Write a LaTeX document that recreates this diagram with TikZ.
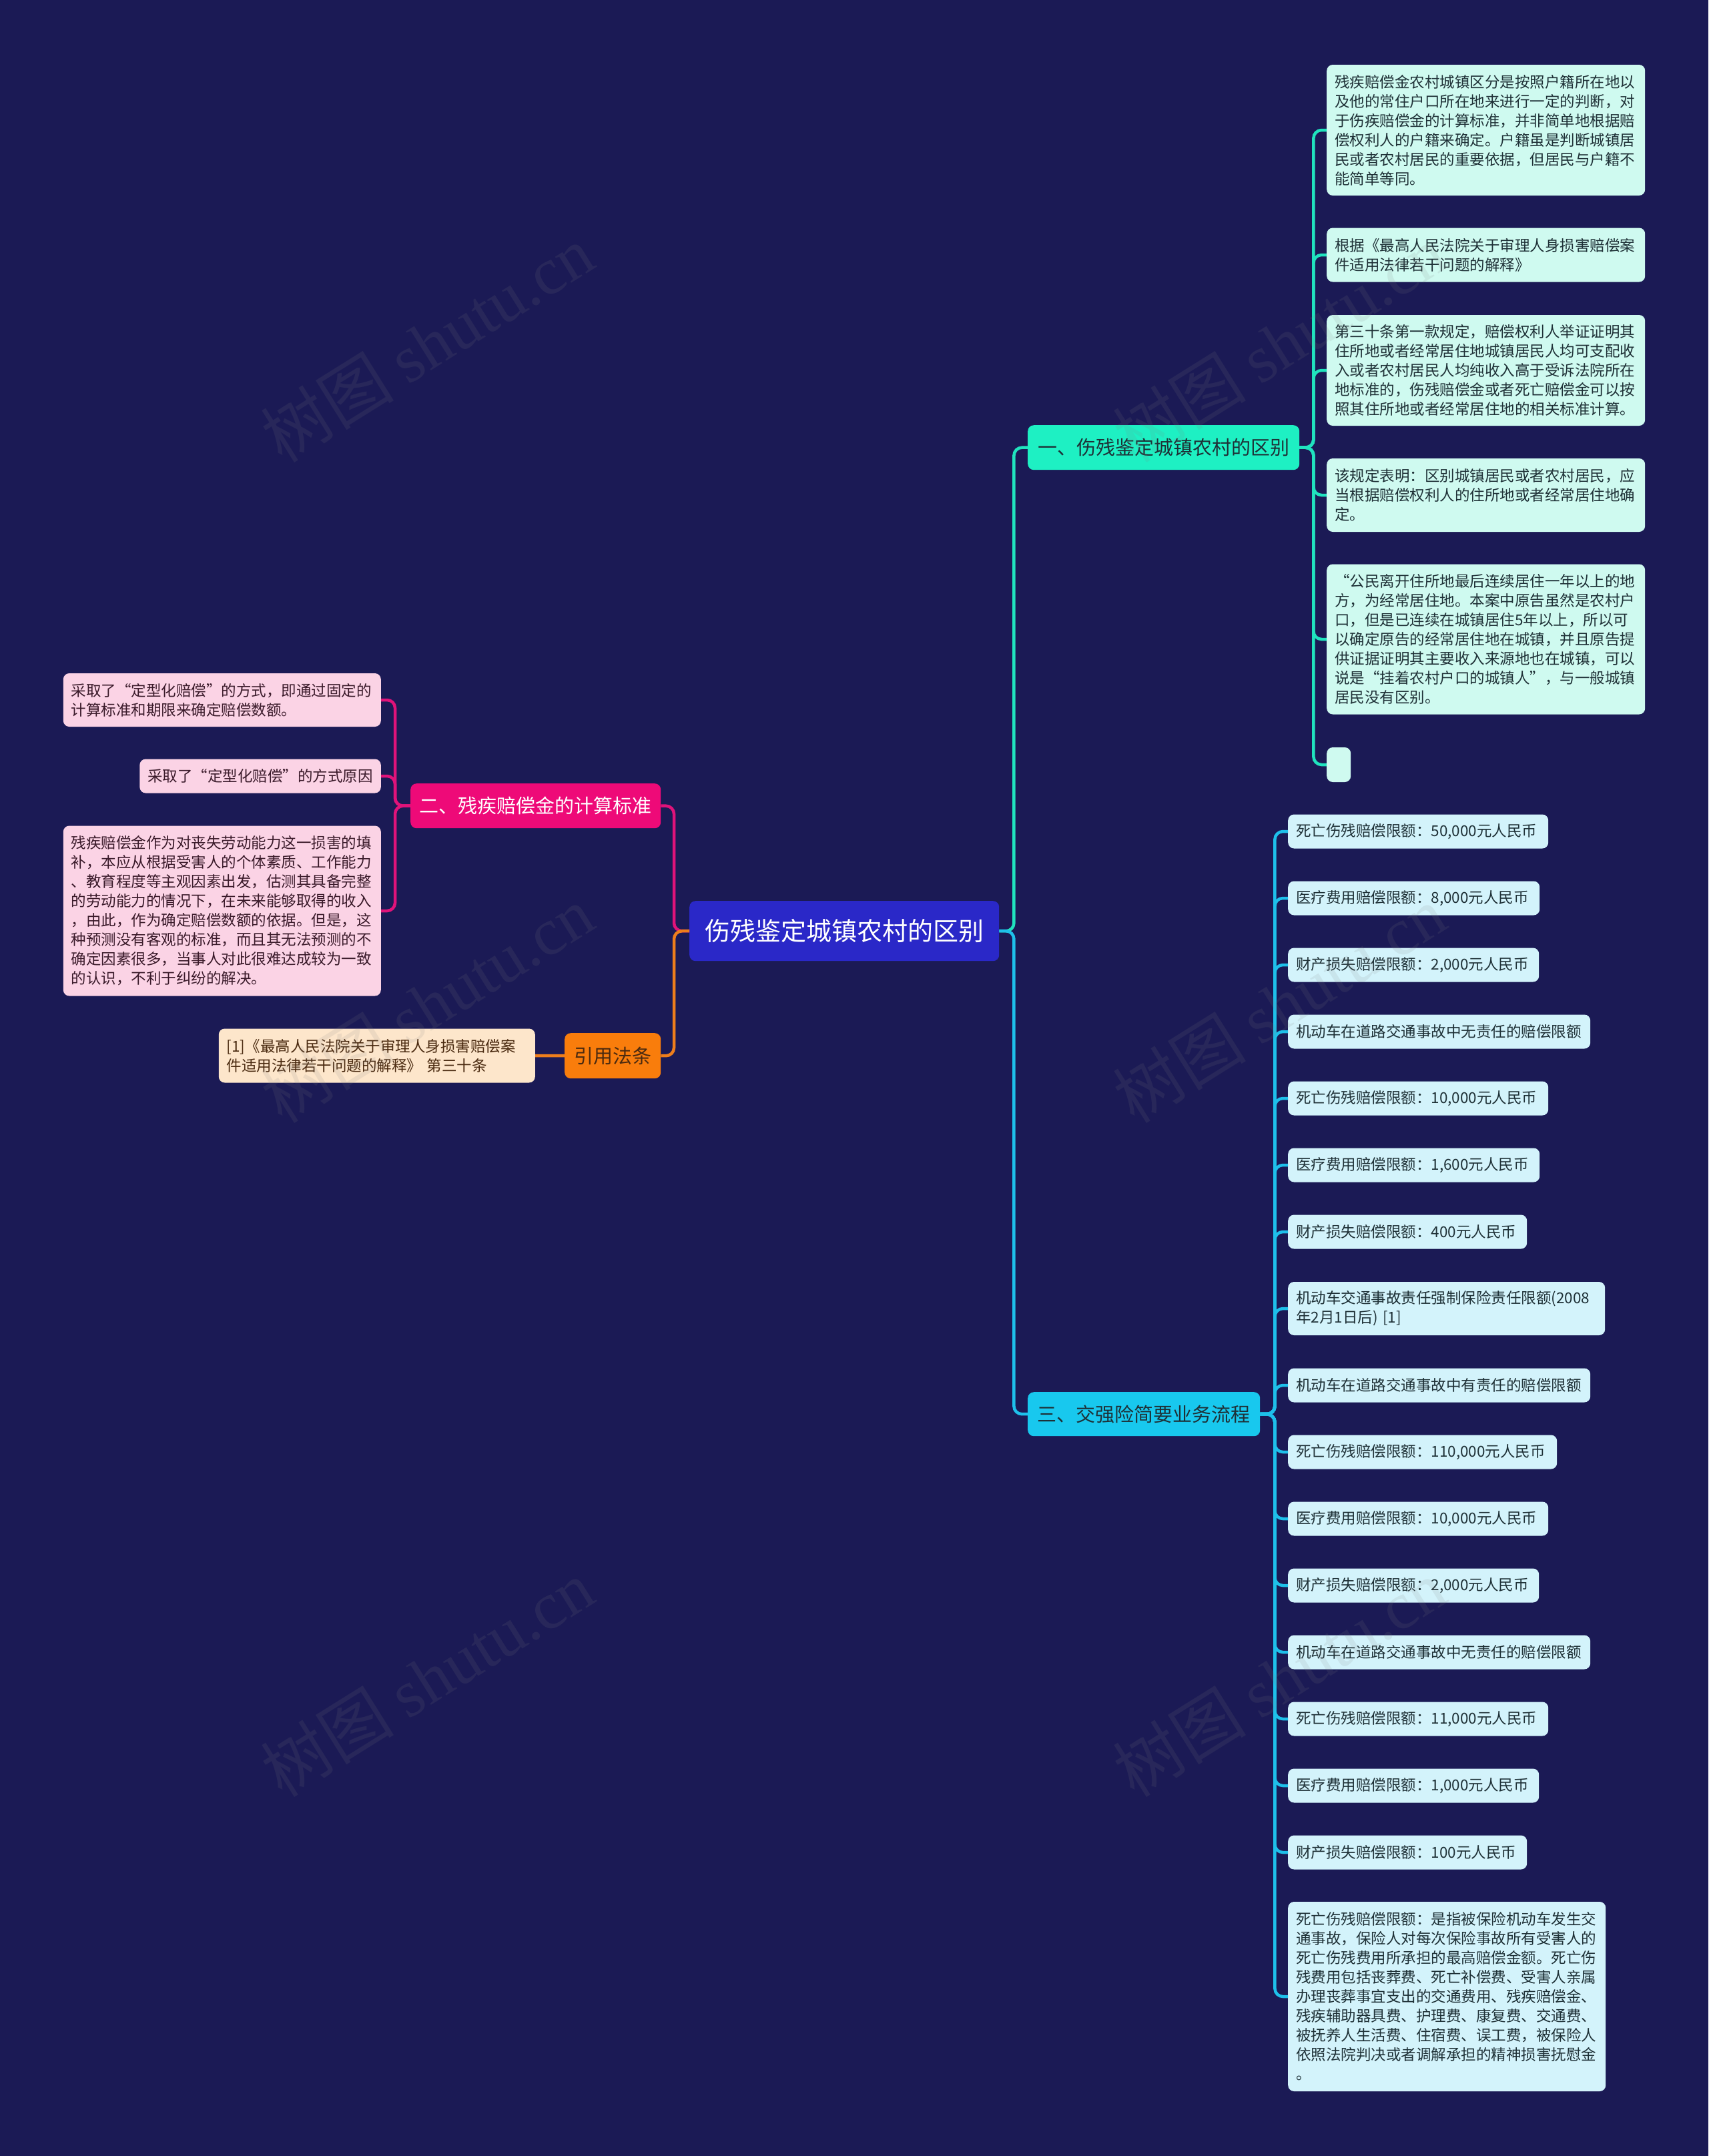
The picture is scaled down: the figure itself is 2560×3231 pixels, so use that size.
\documentclass[tikz,border=0pt]{standalone}
\usepackage{fontspec}
\setmainfont{Noto Sans CJK SC}
\newfontfamily\wmserif{Liberation Serif}
\definecolor{bg}{HTML}{1B1A55}
\definecolor{rootfill}{HTML}{2A28C8}
\definecolor{bonefill}{HTML}{1EF0C3}
\definecolor{boneline}{HTML}{20E3BE}
\definecolor{boneleaf}{HTML}{CFFAF0}
\definecolor{bthreefill}{HTML}{18C8EE}
\definecolor{bthreeline}{HTML}{1EC0EA}
\definecolor{bthreeleaf}{HTML}{D3F3FB}
\definecolor{btwofill}{HTML}{EE0A78}
\definecolor{btwoline}{HTML}{E0137A}
\definecolor{btwoleaf}{HTML}{FBD3E5}
\definecolor{bfourfill}{HTML}{F97D0C}
\definecolor{bfourline}{HTML}{EE7E1C}
\definecolor{bfourleaf}{HTML}{FDE6CB}
\definecolor{tdark}{HTML}{1E3036}
\definecolor{tpink}{HTML}{3A1A2A}
\definecolor{tbrown}{HTML}{4A2A10}
\begin{document}
\begin{tikzpicture}[x=1pt,y=-1pt,
  leafbox/.style={rounded corners=9pt, inner xsep=12pt, inner ysep=0pt, align=left,
    font=\fontsize{22.5}{29}\selectfont, text=tdark},
  leafone/.style={leafbox, fill=boneleaf, anchor=west},
  leafthree/.style={leafbox, fill=bthreeleaf, anchor=west, minimum height=51pt},
  leaftwo/.style={leafbox, fill=btwoleaf, anchor=east, text=tpink},
  leaffour/.style={leafbox, fill=bfourleaf, anchor=east, text=tbrown},
  branchbox/.style={rounded corners=9pt, inner sep=0pt, align=center,
    font=\fontsize{29}{35}\selectfont},
  link/.style={line width=4.5pt, rounded corners=12pt},
  wmark/.style={rotate=32, text=gray, opacity=0.13, font=\fontsize{100}{100}\selectfont}
]
\useasboundingbox (0,0) rectangle (2560,3231);
\fill[bg] (0,0) rectangle (2560,3231);

% root
\node[branchbox, fill=rootfill, text=white, minimum width=464pt, minimum height=90pt,
  font=\fontsize{38}{46}\selectfont, anchor=north west] (root) at (1033,1350) {伤残鉴定城镇农村的区别};

% branches
\node[branchbox, fill=bonefill, text=tdark, minimum width=407pt, minimum height=67pt, anchor=north west]
  (b1) at (1540,637) {一、伤残鉴定城镇农村的区别};
\node[branchbox, fill=btwofill, text=white, minimum width=375pt, minimum height=67pt, anchor=north west]
  (b2) at (615,1174) {二、残疾赔偿金的计算标准};
\node[branchbox, fill=bfourfill, text=tbrown, minimum width=144pt, minimum height=68pt, anchor=north west]
  (b4) at (846,1548) {引用法条};
\node[branchbox, fill=bthreefill, text=tdark, minimum width=348pt, minimum height=66pt, anchor=north west]
  (b3) at (1540,2086) {三、交强险简要业务流程};

% branch 1 leaves
\node[leafone, text width=453pt, minimum height=196pt] (a1) at (1988,195) {残疾赔偿金农村城镇区分是按照户籍所在地以\\及他的常住户口所在地来进行一定的判断，对\\于伤疾赔偿金的计算标准，并非简单地根据赔\\偿权利人的户籍来确定。户籍虽是判断城镇居\\民或者农村居民的重要依据，但居民与户籍不\\能简单等同。};
\node[leafone, text width=453pt, minimum height=81pt] (a2) at (1988,382) {根据《最高人民法院关于审理人身损害赔偿案\\件适用法律若干问题的解释》};
\node[leafone, text width=453pt, minimum height=166pt] (a3) at (1988,555) {第三十条第一款规定，赔偿权利人举证证明其\\住所地或者经常居住地城镇居民人均可支配收\\入或者农村居民人均纯收入高于受诉法院所在\\地标准的，伤残赔偿金或者死亡赔偿金可以按\\照其住所地或者经常居住地的相关标准计算。};
\node[leafone, text width=453pt, minimum height=110pt] (a4) at (1988,742) {该规定表明：区别城镇居民或者农村居民，应\\当根据赔偿权利人的住所地或者经常居住地确\\定。};
\node[leafone, text width=453pt, minimum height=225pt] (a5) at (1988,958) {“公民离开住所地最后连续居住一年以上的地\\方，为经常居住地。本案中原告虽然是农村户\\口，但是已连续在城镇居住5年以上，所以可\\以确定原告的经常居住地在城镇，并且原告提\\供证据证明其主要收入来源地也在城镇，可以\\说是“挂着农村户口的城镇人”，与一般城镇\\居民没有区别。};
\node[leafone, inner xsep=0pt, minimum width=36pt, minimum height=52pt] (a6) at (1988,1146) {};

% branch 2 leaves
\node[leaftwo, text width=452pt, minimum height=80pt] (p1) at (571,1049) {采取了“定型化赔偿”的方式，即通过固定的\\计算标准和期限来确定赔偿数额。};
\node[leaftwo, minimum height=51pt] (p2) at (571,1163) {采取了“定型化赔偿”的方式原因};
\node[leaftwo, text width=452pt, minimum height=255pt] (p3) at (571,1365) {残疾赔偿金作为对丧失劳动能力这一损害的填\\补，本应从根据受害人的个体素质、工作能力\\、教育程度等主观因素出发，估测其具备完整\\的劳动能力的情况下，在未来能够取得的收入\\，由此，作为确定赔偿数额的依据。但是，这\\种预测没有客观的标准，而且其无法预测的不\\确定因素很多，当事人对此很难达成较为一致\\的认识，不利于纠纷的解决。};

% citation leaf
\node[leaffour, text width=450pt, minimum height=81pt] (q1) at (802,1582) {[1]《最高人民法院关于审理人身损害赔偿案\\件适用法律若干问题的解释》 第三十条};

% branch 3 leaves
\node[leafthree, text width=366pt] (c1) at (1930,1246) {死亡伤残赔偿限额：50,000元人民币};
\node[leafthree, text width=353pt] (c2) at (1930,1346) {医疗费用赔偿限额：8,000元人民币};
\node[leafthree, text width=352pt] (c3) at (1930,1446) {财产损失赔偿限额：2,000元人民币};
\node[leafthree, text width=429pt] (c4) at (1930,1546) {机动车在道路交通事故中无责任的赔偿限额};
\node[leafthree, text width=366pt] (c5) at (1930,1646) {死亡伤残赔偿限额：10,000元人民币};
\node[leafthree, text width=353pt] (c6) at (1930,1746) {医疗费用赔偿限额：1,600元人民币};
\node[leafthree, text width=334pt] (c7) at (1930,1846) {财产损失赔偿限额：400元人民币};
\node[leafthree, text width=451pt, minimum height=80pt] (c8) at (1930,1961) {机动车交通事故责任强制保险责任限额(2008\\年2月1日后) [1]};
\node[leafthree, text width=429pt] (c9) at (1930,2076) {机动车在道路交通事故中有责任的赔偿限额};
\node[leafthree, text width=379pt] (c10) at (1930,2176) {死亡伤残赔偿限额：110,000元人民币};
\node[leafthree, text width=366pt] (c11) at (1930,2276) {医疗费用赔偿限额：10,000元人民币};
\node[leafthree, text width=352pt] (c12) at (1930,2376) {财产损失赔偿限额：2,000元人民币};
\node[leafthree, text width=429pt] (c13) at (1930,2476) {机动车在道路交通事故中无责任的赔偿限额};
\node[leafthree, text width=366pt] (c14) at (1930,2576) {死亡伤残赔偿限额：11,000元人民币};
\node[leafthree, text width=352pt] (c15) at (1930,2676) {医疗费用赔偿限额：1,000元人民币};
\node[leafthree, text width=334pt] (c16) at (1930,2776) {财产损失赔偿限额：100元人民币};
\node[leafthree, text width=452pt, minimum height=284pt] (c17) at (1930,2992) {死亡伤残赔偿限额：是指被保险机动车发生交\\通事故，保险人对每次保险事故所有受害人的\\死亡伤残费用所承担的最高赔偿金额。死亡伤\\残费用包括丧葬费、死亡补偿费、受害人亲属\\办理丧葬事宜支出的交通费用、残疾赔偿金、\\残疾辅助器具费、护理费、康复费、交通费、\\被抚养人生活费、住宿费、误工费，被保险人\\依照法院判决或者调解承担的精神损害抚慰金\\。};

% connectors
\draw[link, boneline] (root.east) -- ++(22,0) |- (b1.west);
\draw[link, bthreeline] (root.east) -- ++(22,0) |- (b3.west);
\draw[link, btwoline] (root.west) -- ++(-23,0) |- (b2.east);
\draw[link, bfourline] (root.west) -- ++(-23,0) |- (b4.east);
\foreach \n in {a1,a2,a3,a4,a5,a6}
  \draw[link, boneline] (b1.east) -- ++(21,0) |- (\n.west);
\foreach \n in {c1,c2,c3,c4,c5,c6,c7,c8,c9,c10,c11,c12,c13,c14,c15,c16,c17}
  \draw[link, bthreeline] (b3.east) -- ++(22,0) |- (\n.west);
\foreach \n in {p1,p2,p3}
  \draw[link, btwoline] (b2.west) -- ++(-23,0) |- (\n.east);
\draw[link, bfourline] (b4.west) -- (q1.east);

% watermarks
\node[wmark] (w1) at (640,515) {树图 {\wmserif shutu.cn}};
\node[wmark] (w2) at (640,1505) {树图 {\wmserif shutu.cn}};
\node[wmark] (w3) at (640,2515) {树图 {\wmserif shutu.cn}};
\node[wmark] (w4) at (1917,515) {树图 {\wmserif shutu.cn}};
\node[wmark] (w5) at (1917,1505) {树图 {\wmserif shutu.cn}};
\node[wmark] (w6) at (1917,2515) {树图 {\wmserif shutu.cn}};
\end{tikzpicture}
\end{document}
